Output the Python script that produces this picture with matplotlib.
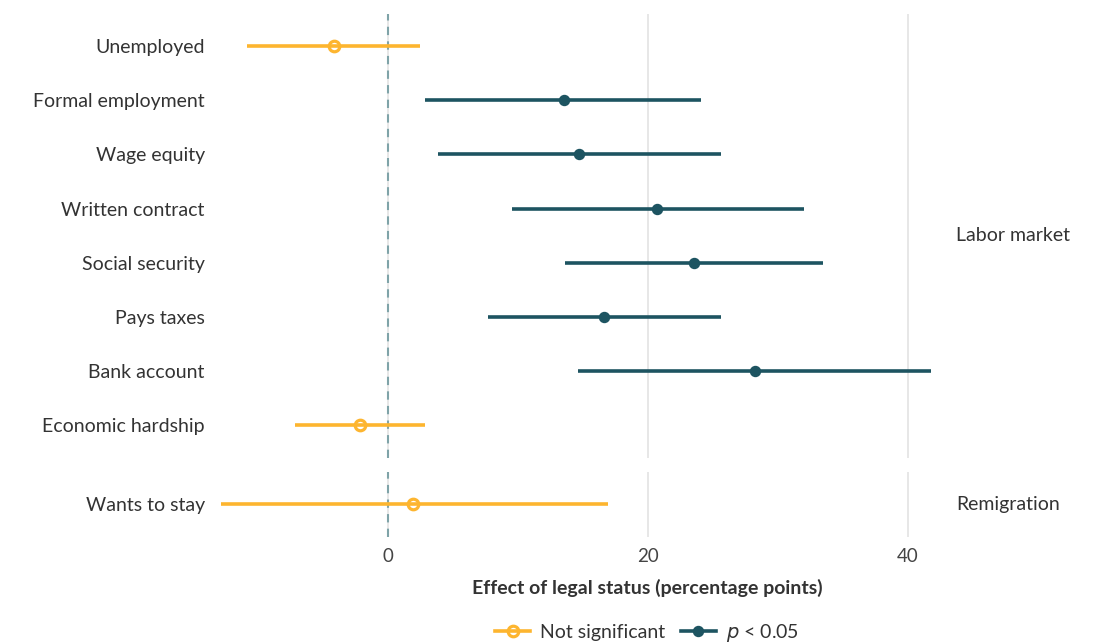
import numpy as np
import matplotlib
matplotlib.use("Agg")
import matplotlib.pyplot as plt
from matplotlib.lines import Line2D

plt.rcParams["font.family"] = ["Lato", "DejaVu Sans"]

# effect estimates with 95% intervals (percentage points)
labor_items = ["Unemployed", "Formal employment", "Wage equity", "Written contract",
               "Social security", "Pays taxes", "Bank account", "Economic hardship"]
labor_est = [-4.2, 13.5, 14.7, 20.7, 23.5, 16.6, 28.2, -2.2]
labor_lo = [-10.9, 2.85, 3.85, 9.5, 13.6, 7.7, 14.6, -7.2]
labor_hi = [2.4, 24.1, 25.65, 32.0, 33.5, 25.65, 41.8, 2.8]
labor_sig = [False, True, True, True, True, True, True, False]

remig_items = ["Wants to stay"]
remig_est = [1.9]
remig_lo = [-12.9]
remig_hi = [16.9]
remig_sig = [False]

ORANGE = "#FDB52F"
TEAL = "#1D5461"
TEXT = "#333333"
FS = 14

fig = plt.figure(figsize=(10.93, 6.43), dpi=100)
gs = fig.add_gridspec(2, 1, height_ratios=[8.2, 1.2], hspace=0.055,
                      left=0.195, right=0.865, top=0.979, bottom=0.165)
ax_top = fig.add_subplot(gs[0])
ax_bot = fig.add_subplot(gs[1], sharex=ax_top)


def draw_panel(ax, items, est, lo, hi, sig, strip):
    n = len(items)
    ypos = np.arange(n)[::-1]
    ax.set_ylim(-0.6, n - 1 + 0.6)
    for x in [0, 20, 40]:
        ax.axvline(x, color="#E3E3E3", lw=1.2, zorder=0)
    ax.axvline(0, color="#7FA3A8", lw=1.5, ls=(0, (4, 3)), zorder=1)
    for y, e, l, h, s in zip(ypos, est, lo, hi, sig):
        c = TEAL if s else ORANGE
        ax.plot([l, h], [y, y], color=c, lw=2.6, solid_capstyle="butt", zorder=2)
        if s:
            ax.plot(e, y, "o", ms=7.2, color=c, zorder=3)
        else:
            ax.plot(e, y, "o", ms=7.6, mfc="none", mec=c, mew=2.3, zorder=3)
    ax.set_yticks(ypos)
    ax.set_yticklabels(items, fontsize=FS, color=TEXT)
    ax.tick_params(axis="both", length=0, pad=6)
    for sp in ax.spines.values():
        sp.set_visible(False)
    ax.text(1.015, 0.5, strip, transform=ax.transAxes, ha="left", va="center",
            fontsize=FS, color=TEXT)


draw_panel(ax_top, labor_items, labor_est, labor_lo, labor_hi, labor_sig, "Labor market")
draw_panel(ax_bot, remig_items, remig_est, remig_lo, remig_hi, remig_sig, "Remigration")

ax_top.set_xlim(-13.5, 42.9)
ax_top.set_xticks([0, 20, 40])
plt.setp(ax_top.get_xticklabels(), visible=False)
ax_bot.tick_params(axis="x", labelsize=13.5, labelcolor="#444444", pad=8)

fig.text(0.592, 0.085, "Effect of legal status (percentage points)", ha="center",
         va="center", fontsize=FS, fontweight="bold", color=TEXT)

handles = [
    Line2D([], [], color=ORANGE, lw=2.6, marker="o", ms=7.6, mfc="none", mec=ORANGE, mew=2.3),
    Line2D([], [], color=TEAL, lw=2.6, marker="o", ms=7.2, mfc=TEAL, mec=TEAL),
]
fig.legend(handles, ["Not significant", "$p$ < 0.05"], loc="center",
           bbox_to_anchor=(0.592, 0.016), ncol=2, frameon=False, fontsize=FS,
           handlelength=1.8, handletextpad=0.5, columnspacing=0.8,
           labelcolor=TEXT)

fig.savefig("out.png", dpi=100, facecolor="white")
